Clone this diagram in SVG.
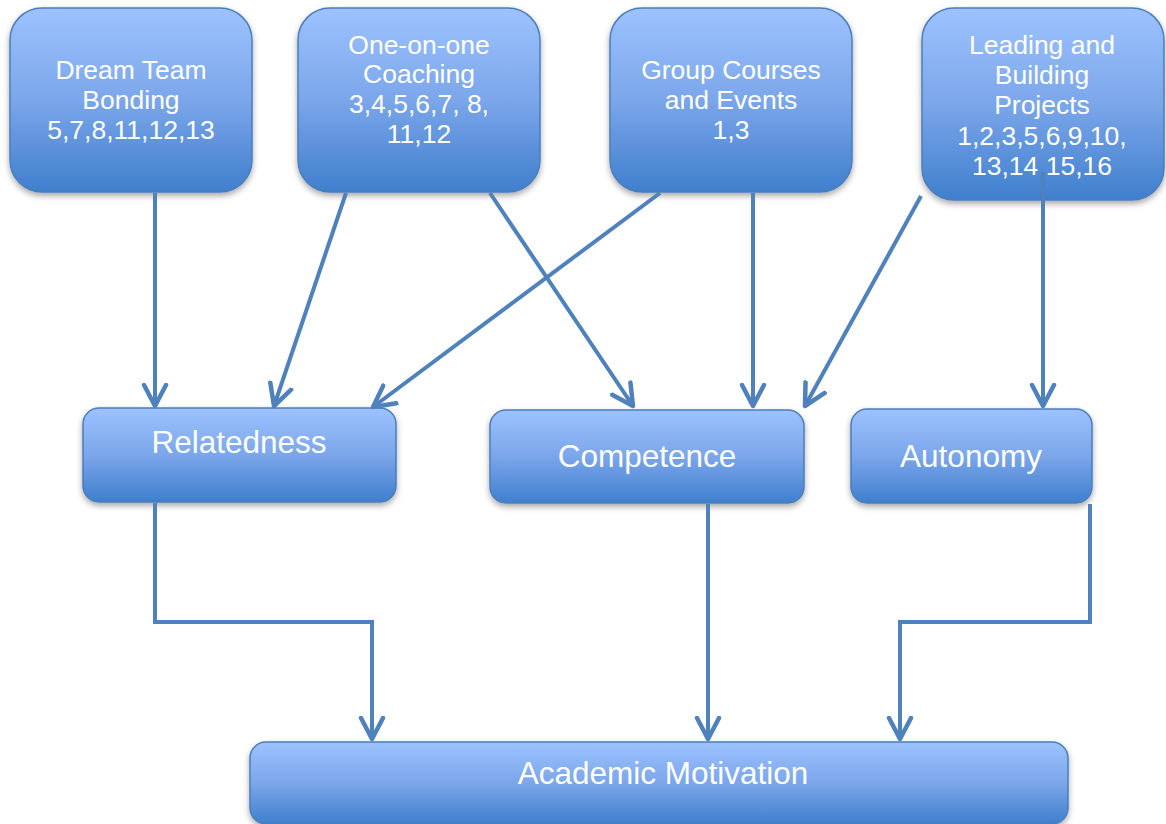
<svg xmlns="http://www.w3.org/2000/svg" width="1166" height="824" viewBox="0 0 1166 824">
<style>
.box{fill:url(#g);stroke:#4a7ebb;stroke-width:1.5;filter:url(#sh)}
.t{font-family:"Liberation Sans",Arial,sans-serif;fill:#fff;text-anchor:middle}
.s{font-size:26.5px}
.l{font-size:31.5px}
.c{fill:none;stroke:#4f81bd;stroke-width:4;marker-end:url(#a)}
</style>
<defs>
<linearGradient id="g" x1="0" y1="0" x2="0" y2="1">
<stop offset="0" stop-color="#9dc3ff"/>
<stop offset="0.5" stop-color="#7ba6ea"/>
<stop offset="1" stop-color="#3f7fcd"/>
</linearGradient>
<filter id="sh" x="-10%" y="-10%" width="120%" height="130%">
<feGaussianBlur in="SourceAlpha" stdDeviation="3"/>
<feOffset dx="0" dy="3" result="b"/>
<feComponentTransfer><feFuncA type="linear" slope="0.35"/></feComponentTransfer>
<feMerge><feMergeNode/><feMergeNode in="SourceGraphic"/></feMerge>
</filter>
<marker id="a" markerUnits="userSpaceOnUse" markerWidth="26" markerHeight="28" refX="23" refY="13" orient="auto" viewBox="0 0 26 26">
<path d="M2,2 L23,13 L2,24" fill="none" stroke="#4f81bd" stroke-width="4.5" stroke-linecap="round" stroke-linejoin="round"/>
</marker>
</defs>
<g id="n1"><rect class="box" x="10" y="8" width="242" height="184" rx="32"/>
<text class="t s" x="131" y="79">Dream Team</text><text class="t s" x="131" y="109">Bonding</text><text class="t s" x="131" y="139">5,7,8,11,12,13</text></g>
<g id="n2"><rect class="box" x="298" y="8" width="242" height="184" rx="32"/>
<text class="t s" x="419" y="54">One-on-one</text><text class="t s" x="419" y="83">Coaching</text><text class="t s" x="419" y="113">3,4,5,6,7, 8,</text><text class="t s" x="419" y="143">11,12</text></g>
<g id="n3"><rect class="box" x="610" y="8" width="242" height="184" rx="32"/>
<text class="t s" x="731" y="79">Group Courses</text><text class="t s" x="731" y="109">and Events</text><text class="t s" x="731" y="139">1,3</text></g>
<g id="n4"><rect class="box" x="922" y="8" width="242" height="192" rx="32"/>
<text class="t s" x="1042" y="54">Leading and</text><text class="t s" x="1042" y="84">Building</text><text class="t s" x="1042" y="114">Projects</text><text class="t s" x="1042" y="145">1,2,3,5,6,9,10,</text><text class="t s" x="1042" y="175">13,14 15,16</text></g>
<g id="n5"><rect class="box" x="83" y="408" width="313" height="94" rx="16"/>
<text class="t l" x="239" y="453">Relatedness</text></g>
<g id="n6"><rect class="box" x="490" y="410" width="314" height="93" rx="16"/>
<text class="t l" x="647" y="467">Competence</text></g>
<g id="n7"><rect class="box" x="851" y="409" width="241" height="94" rx="16"/>
<text class="t l" x="971" y="467">Autonomy</text></g>
<g id="n8"><rect class="box" x="250" y="742" width="818" height="82" rx="16"/>
<text class="t l" x="663" y="784">Academic Motivation</text></g>
<g id="connectors">
<path class="c" d="M155,193 L155,406"/>
<path class="c" d="M346,193 L274,406"/>
<path class="c" d="M660,193 L373,407"/>
<path class="c" d="M490,193 L633,406"/>
<path class="c" d="M753,193 L753,406"/>
<path class="c" d="M921,196 L805,406"/>
<path class="c" d="M1043,172 L1043,406"/>
<path class="c" d="M155,503 L155,622 L372,622 L372,739"/>
<path class="c" d="M708,504 L708,739"/>
<path class="c" d="M1090,504 L1090,622 L900,622 L900,739"/>
</g>
</svg>
